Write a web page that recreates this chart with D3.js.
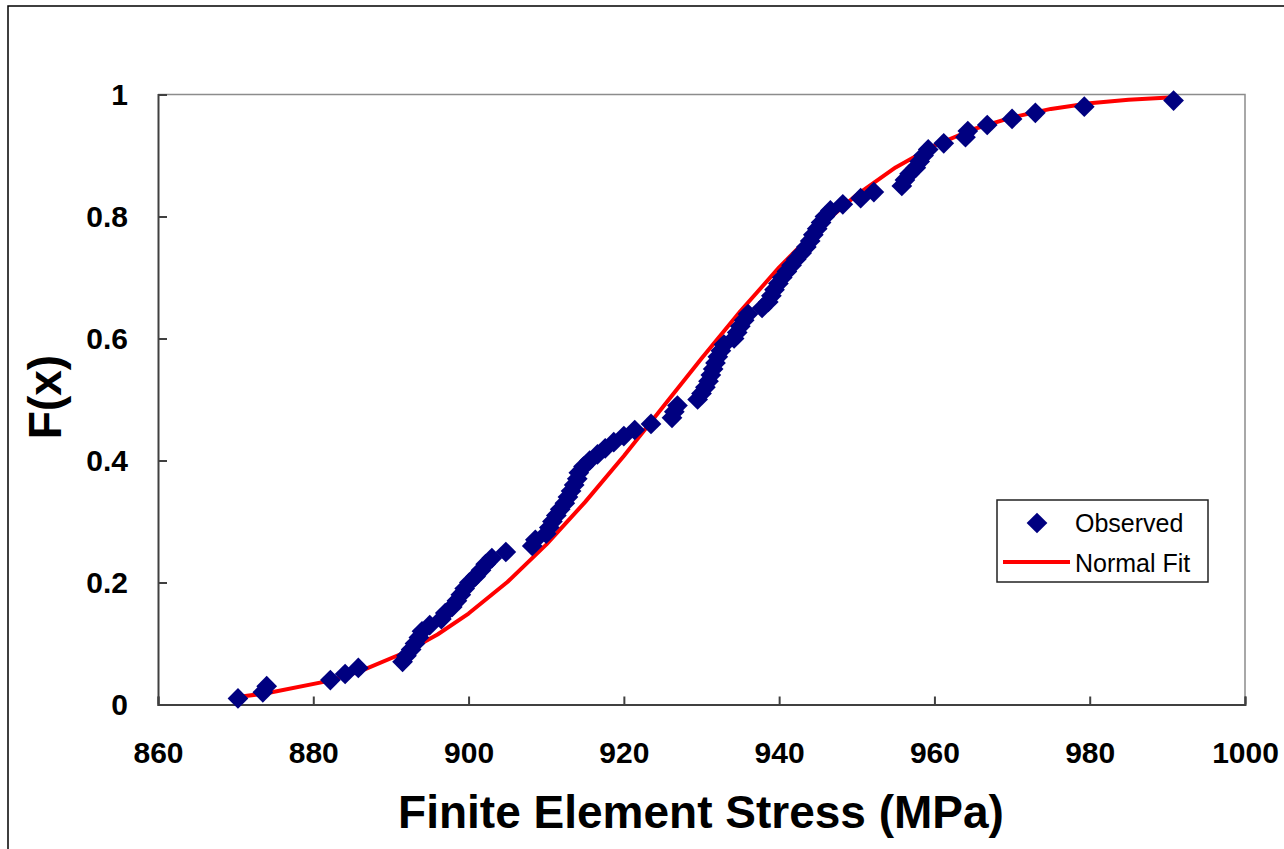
<!DOCTYPE html>
<html>
<head>
<meta charset="utf-8">
<script src="https://cdn.jsdelivr.net/npm/d3@7"></script>
<style>
  html, body { margin: 0; padding: 0; background: #fff; }
  svg { display: block; }
</style>
</head>
<body>
<svg id="chart" width="1284" height="849"></svg>
<script>
// ---- Data ----
const observedStress = [
  870.3, 873.5, 874.0, 882.2, 884.1, 885.8, 891.5, 892.0, 892.6, 893.1,
  893.6, 894.0, 895.0, 896.5, 897.0, 897.9, 898.5, 899.0, 899.5, 900.1,
  900.9, 901.6, 902.2, 903.0, 904.8, 908.2, 908.6, 910.0, 910.4, 910.8,
  911.3, 911.8, 912.4, 912.8, 913.2, 913.6, 914.0, 914.2, 914.8, 915.6,
  916.6, 917.6, 918.7, 920.0, 921.4, 923.5, 926.2, 926.5, 926.9, 929.5,
  930.0, 930.5, 930.9, 931.2, 931.5, 931.8, 932.1, 932.5, 932.9, 934.2,
  934.6, 935.0, 935.5, 936.0, 937.8, 938.6, 939.0, 939.4, 939.9, 940.4,
  941.0, 941.6, 942.2, 942.9, 943.5, 944.0, 944.4, 944.9, 945.4, 945.9,
  946.6, 948.2, 950.5, 952.2, 955.8, 956.2, 956.8, 957.6, 958.1, 958.6,
  959.2, 961.2, 964.0, 964.3, 966.8, 970.0, 973.0, 979.3, 990.8
];
const observedF = [
  0.01, 0.02, 0.03, 0.04, 0.05, 0.06, 0.07, 0.08, 0.09, 0.10,
  0.11, 0.12, 0.13, 0.14, 0.15, 0.16, 0.17, 0.18, 0.19, 0.20,
  0.21, 0.22, 0.23, 0.24, 0.25, 0.26, 0.27, 0.28, 0.29, 0.30,
  0.31, 0.32, 0.33, 0.34, 0.35, 0.36, 0.37, 0.38, 0.39, 0.40,
  0.41, 0.42, 0.43, 0.44, 0.45, 0.46, 0.47, 0.48, 0.49, 0.50,
  0.51, 0.52, 0.53, 0.54, 0.55, 0.56, 0.57, 0.58, 0.59, 0.60,
  0.61, 0.62, 0.63, 0.64, 0.65, 0.66, 0.67, 0.68, 0.69, 0.70,
  0.71, 0.72, 0.73, 0.74, 0.75, 0.76, 0.77, 0.78, 0.79, 0.80,
  0.81, 0.82, 0.83, 0.84, 0.85, 0.86, 0.87, 0.88, 0.89, 0.90,
  0.91, 0.92, 0.93, 0.94, 0.95, 0.96, 0.97, 0.98, 0.99
];
const fitStress = [870.3, 874, 882, 886, 892, 896, 900, 905, 910, 915, 920, 925,
  930, 935, 940, 945, 950, 955, 960, 965, 970, 975, 980, 985, 990.8];
const fitF = [0.0124, 0.0184, 0.0387, 0.0543, 0.0865, 0.1148, 0.1491, 0.2008, 0.2620,
  0.3318, 0.4075, 0.4872, 0.5672, 0.6447, 0.7167, 0.7806, 0.8355, 0.8804, 0.9161,
  0.9430, 0.9626, 0.9764, 0.9856, 0.9915, 0.9955];
const xTicks = [860, 880, 900, 920, 940, 960, 980, 1000];
const xTickLabels = ["860", "880", "900", "920", "940", "960", "980", "1000"];
const yTicks = [0, 0.2, 0.4, 0.6, 0.8, 1];
const yTickLabels = ["0", "0.2", "0.4", "0.6", "0.8", "1"];
const seriesNames = ["Observed", "Normal Fit"];
const xTitle = "Finite Element Stress (MPa)";
const yTitle = "F(x)";

// ---- Layout ----
const W = 1284, H = 849;
const plot = { left: 158, right: 1245, top: 94.5, bottom: 704.5 };
const FONT = "'Liberation Sans', Arial, sans-serif";

const svg = d3.select("#chart");
svg.append("rect").attr("width", W).attr("height", H).attr("fill", "#fff");
// outer chart border
svg.append("rect").attr("x", 8).attr("y", 6).attr("width", W + 20).attr("height", H + 20)
  .attr("fill", "none").attr("stroke", "#000").attr("stroke-width", 1.5);

const x = d3.scaleLinear().domain([860, 1000]).range([plot.left, plot.right]);
const y = d3.scaleLinear().domain([0, 1]).range([plot.bottom, plot.top]);

// plot-area frame (top and right in gray)
svg.append("path")
  .attr("d", `M${plot.left},${plot.top}H${plot.right}V${plot.bottom}`)
  .attr("fill", "none").attr("stroke", "#8c8c8c").attr("stroke-width", 1.5);

// axes
const xAxis = d3.axisBottom(x).tickValues(xTicks).tickFormat((d, i) => xTickLabels[i])
  .tickSize(-8).tickPadding(37);
const yAxis = d3.axisLeft(y).tickValues(yTicks).tickFormat((d, i) => yTickLabels[i])
  .tickSize(-9).tickPadding(30);

const gx = svg.append("g").attr("transform", `translate(0,${plot.bottom})`).call(xAxis);
const gy = svg.append("g").attr("transform", `translate(${plot.left},0)`).call(yAxis);
[gx, gy].forEach(g => {
  g.select(".domain").attr("stroke", "#404040").attr("stroke-width", 2);
  g.selectAll(".tick line").attr("stroke", "#404040").attr("stroke-width", 2);
  g.selectAll(".tick text").attr("fill", "#000").style("font-family", FONT)
    .style("font-weight", "bold").style("font-size", "30px");
});

// normal fit line
const fitData = fitStress.map((s, i) => [s, fitF[i]]);
svg.append("path").datum(fitData)
  .attr("d", d3.line().x(d => x(d[0])).y(d => y(d[1])))
  .attr("fill", "none").attr("stroke", "#ff0000").attr("stroke-width", 4)
  .attr("stroke-linejoin", "round");

// observed markers
const obsData = observedStress.map((s, i) => [s, observedF[i]]);
const diamond = d3.symbol().type(d3.symbolSquare).size(215);
svg.append("g").selectAll("path").data(obsData).join("path")
  .attr("d", diamond)
  .attr("transform", d => `translate(${x(d[0])},${y(d[1])}) rotate(45)`)
  .attr("fill", "#000080");

// axis titles
svg.append("text").attr("x", 701).attr("y", 828).attr("text-anchor", "middle")
  .style("font-family", FONT).style("font-weight", "bold").style("font-size", "46px")
  .text(xTitle);
svg.append("text").attr("transform", "translate(61,397) rotate(-90)").attr("text-anchor", "middle")
  .style("font-family", FONT).style("font-weight", "bold").style("font-size", "46px")
  .text(yTitle);

// legend
const lg = svg.append("g");
lg.append("rect").attr("x", 997).attr("y", 500).attr("width", 211).attr("height", 82)
  .attr("fill", "#fff").attr("stroke", "#222").attr("stroke-width", 1.5);
lg.append("path").attr("d", diamond).attr("transform", "translate(1037,523) rotate(45)")
  .attr("fill", "#000080");
lg.append("line").attr("x1", 1003).attr("x2", 1070).attr("y1", 562).attr("y2", 562)
  .attr("stroke", "#ff0000").attr("stroke-width", 4);
lg.selectAll("text.lbl").data(seriesNames).join("text").attr("class", "lbl")
  .attr("x", 1075).attr("y", (d, i) => 532 + i * 40)
  .style("font-family", FONT).style("font-size", "25px").attr("fill", "#000")
  .text(d => d);
</script>
</body>
</html>
